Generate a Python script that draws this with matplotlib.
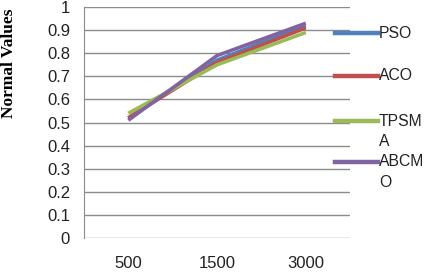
import matplotlib
matplotlib.use('Agg')
import matplotlib.pyplot as plt
from matplotlib.lines import Line2D

# Data
categories = ['500', '1500', '3000']
series = ['PSO', 'ACO', 'TPSMA', 'ABCMO']
legend_labels = ['PSO', 'ACO', 'TPSM\nA', 'ABCM\nO']
pso = [0.52, 0.77, 0.92]
aco = [0.52, 0.76, 0.91]
tpsma = [0.54, 0.75, 0.89]
abcmo = [0.51, 0.79, 0.93]
values = [pso, aco, tpsma, abcmo]
colors = ['#4F81BD', '#C0504D', '#9BBB59', '#8064A2']
yticks = [0, 0.1, 0.2, 0.3, 0.4, 0.5, 0.6, 0.7, 0.8, 0.9, 1]

fig = plt.figure(figsize=(4.26, 2.72), dpi=100)
ax = fig.add_axes([0.197, 0.125, 0.625, 0.849])

x = list(range(len(categories)))
for vals, c in zip(values, colors):
    ax.plot(x, vals, color=c, linewidth=2.6, solid_capstyle='butt')

ax.set_xlim(-0.5, len(categories) - 0.5)
ax.set_ylim(0, 1)
ax.set_yticks(yticks)
ax.set_yticklabels([('%g' % t) for t in yticks])
ax.set_xticks(x)
ax.set_xticklabels(categories)
ax.yaxis.grid(True, color='#8c8c8c', linewidth=1)
ax.set_axisbelow(True)
for s in ['top', 'right', 'bottom']:
    ax.spines[s].set_visible(False)
ax.spines['left'].set_color('#8c8c8c')
ax.tick_params(axis='both', length=0, labelsize=12, colors='#222222')
ax.tick_params(axis='y', pad=10)
ax.tick_params(axis='x', pad=13)
for lab in ax.get_xticklabels() + ax.get_yticklabels():
    lab.set_family('Liberation Sans')

fig.text(9 / 426, 1 - 63 / 272, 'Normal Values', rotation=90, ha='center', va='center',
         family='Liberation Serif', fontweight='bold', fontsize=12.5)

# manual legend at right (Excel style, handle aligned to first text line)
leg_y = [33, 76, 121, 162]
for lab, c, yp in zip(legend_labels, colors, leg_y):
    yf = 1 - yp / 272
    fig.add_artist(Line2D([335 / 426, 378 / 426], [yf, yf], color=c, linewidth=3.2,
                          transform=fig.transFigure))
    fig.text(379 / 426, yf + 7.5 / 272, lab, ha='left', va='top', family='Liberation Sans',
             fontsize=11.3, color='#222222', linespacing=1.45)

fig.savefig('out.png', dpi=100)
